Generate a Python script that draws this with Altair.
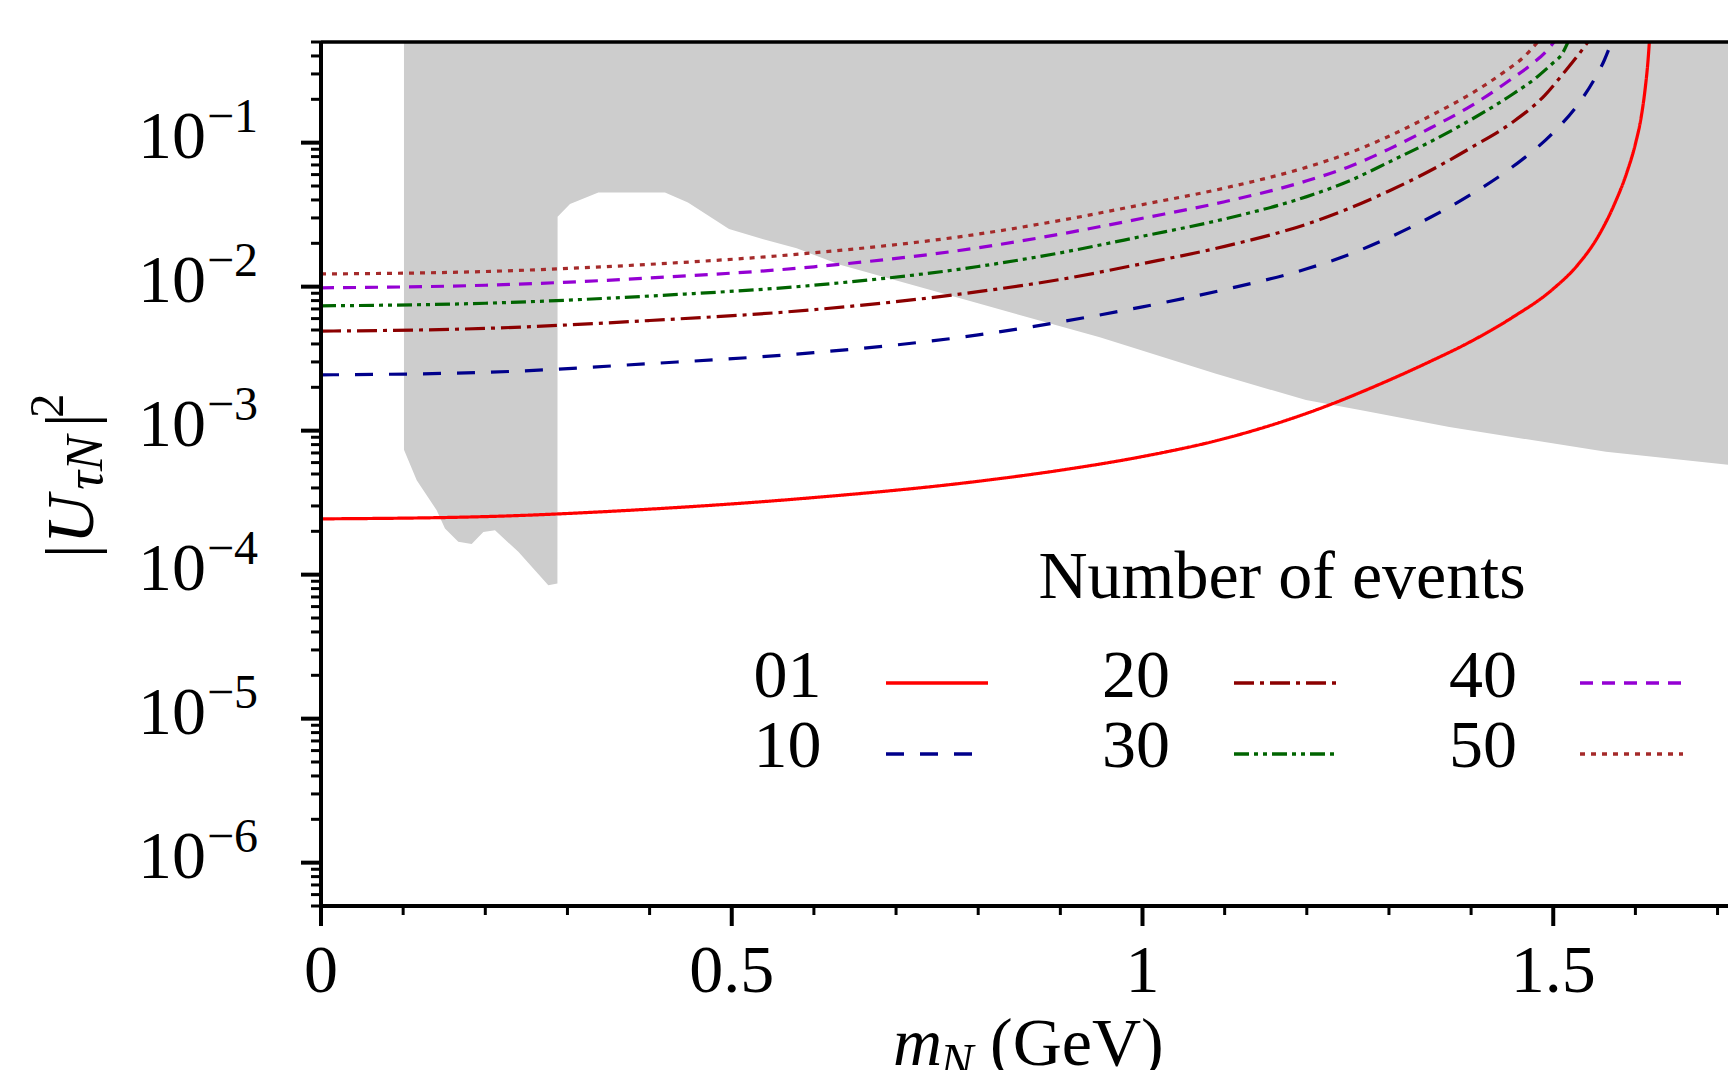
import altair as alt
import pandas as pd

# ---------------- data ----------------
series_labels = ["01", "10", "20", "30", "40", "50"]
series_colors = ["#ff0000", "#00008b", "#8b0000", "#006400", "#9400d3", "#a52a2a"]
series_dashes = [[1, 0], [18, 16], [20, 6, 4, 6], [15, 5, 4, 5, 4, 5], [13, 9], [5, 6]]

m_01 = [0, 0.2, 0.4, 0.6, 0.8, 0.9, 1.0, 1.1, 1.2, 1.3, 1.35, 1.4, 1.45, 1.5, 1.53, 1.555,
        1.575, 1.59, 1.60, 1.607, 1.612, 1.6155, 1.617]
u_01 = [2.44e-4, 2.53e-4, 2.85e-4, 3.43e-4, 4.45e-4, 5.31e-4, 6.61e-4, 8.81e-4, 1.32e-3,
        2.24e-3, 3.02e-3, 4.17e-3, 6.10e-3, 9.66e-3, 1.42e-2, 2.25e-2, 3.80e-2, 6.30e-2,
        9.80e-2, 0.150, 0.240, 0.380, 0.5]

m_10 = [0, 0.2, 0.4, 0.6, 0.8, 0.9, 1.0, 1.1, 1.2, 1.25, 1.3, 1.35, 1.4, 1.45, 1.5, 1.53,
        1.55, 1.562, 1.571]
u_10 = [2.44e-3, 2.54e-3, 2.92e-3, 3.48e-3, 4.62e-3, 5.69e-3, 7.24e-3, 9.55e-3, 1.33e-2,
        1.66e-2, 2.19e-2, 3.02e-2, 4.37e-2, 6.76e-2, 0.1175, 0.184, 0.275, 0.372, 0.5]

m_20 = [0, 0.2, 0.4, 0.6, 0.8, 0.9, 1.0, 1.1, 1.2, 1.25, 1.3, 1.35, 1.4, 1.45, 1.49, 1.515,
        1.53, 1.542]
u_20 = [4.91e-3, 5.13e-3, 5.82e-3, 6.92e-3, 9.23e-3, 1.122e-2, 1.445e-2, 1.905e-2, 2.72e-2,
        3.47e-2, 4.62e-2, 6.38e-2, 9.23e-2, 0.138, 0.214, 0.316, 0.403, 0.5]

m_30 = [0, 0.2, 0.4, 0.6, 0.8, 0.9, 1.0, 1.1, 1.2, 1.25, 1.3, 1.35, 1.4, 1.45, 1.48, 1.5,
        1.51, 1.518]
u_30 = [7.36e-3, 7.67e-3, 8.61e-3, 1.023e-2, 1.380e-2, 1.718e-2, 2.239e-2, 2.951e-2,
        4.22e-2, 5.37e-2, 7.33e-2, 0.1012, 0.1445, 0.216, 0.285, 0.359, 0.407, 0.5]

m_40 = [0, 0.2, 0.4, 0.6, 0.8, 0.9, 1.0, 1.1, 1.2, 1.25, 1.3, 1.35, 1.4, 1.45, 1.475, 1.49,
        1.501]
u_40 = [9.82e-3, 1.023e-2, 1.148e-2, 1.374e-2, 1.862e-2, 2.317e-2, 2.985e-2, 3.89e-2,
        5.43e-2, 6.76e-2, 9.02e-2, 0.1259, 0.180, 0.279, 0.355, 0.422, 0.5]

m_50 = [0, 0.2, 0.4, 0.6, 0.8, 0.9, 1.0, 1.1, 1.2, 1.25, 1.3, 1.35, 1.4, 1.44, 1.465, 1.481]
u_50 = [1.225e-2, 1.274e-2, 1.429e-2, 1.718e-2, 2.317e-2, 2.884e-2, 3.715e-2, 4.84e-2,
        6.76e-2, 8.41e-2, 0.1109, 0.1531, 0.2188, 0.309, 0.398, 0.5]

# excluded (grey) region: lower boundary, filled up to the top of the frame
gray_m = [0.1010, 0.1165, 0.1327, 0.1408, 0.1509, 0.1671, 0.1834, 0.1976, 0.2118, 0.2402,
          0.2767, 0.2878, 0.2880, 0.3031, 0.3376, 0.4187, 0.4467, 0.4967, 0.5384, 0.5790,
          0.6318, 0.79, 0.948, 1.0895, 1.199, 1.2648, 1.3735, 1.5642, 1.72]
gray_u = [7.38e-4, 4.53e-4, 3.29e-4, 2.80e-4, 2.09e-4, 1.69e-4, 1.63e-4, 1.98e-4, 2.03e-4,
          1.44e-4, 8.44e-5, 8.67e-5, 3.06e-2, 3.75e-2, 4.50e-2, 4.50e-2, 3.84e-2, 2.51e-2,
          2.13e-2, 1.846e-2, 1.42e-2, 7.94e-3, 4.45e-3, 2.48e-3, 1.63e-3, 1.39e-3, 1.06e-3,
          7.13e-4, 5.75e-4]

x_major = [0, 0.5, 1, 1.5]
x_labels = ["0", "0.5", "1", "1.5"]
x_minor = [0.1, 0.2, 0.3, 0.4, 0.6, 0.7, 0.8, 0.9, 1.1, 1.2, 1.3, 1.4, 1.6, 1.7]
y_major = [1e-1, 1e-2, 1e-3, 1e-4, 1e-5, 1e-6]
y_exps = ["\u22121", "\u22122", "\u22123", "\u22124", "\u22125", "\u22126"]
legend_title = "Number of events"

# ---------------- layout ----------------
FONT = "Liberation Serif"
W, H = 1407, 864
PX_PER_UNIT = 821.5
XMAX = W / PX_PER_UNIT
YMIN, YMAX = 5e-7, 0.5

xs = alt.Scale(domain=[0, XMAX], nice=False, zero=False)
ys = alt.Scale(type="log", domain=[YMIN, YMAX], nice=False)

rows = []
for lab, ms, us in zip(series_labels, [m_01, m_10, m_20, m_30, m_40, m_50],
                       [u_01, u_10, u_20, u_30, u_40, u_50]):
    for m, u in zip(ms, us):
        rows.append({"series": lab, "m": m, "u": u})
curves = pd.DataFrame(rows)
gray = pd.DataFrame({"m": gray_m, "u": gray_u, "top": [YMAX] * len(gray_m)})

minor_y = []
for k in range(-7, 0):
    for j in range(2, 10):
        v = j * 10.0 ** k
        if YMIN * 0.999 <= v <= YMAX * 1.001:
            minor_y.append(v)

one = pd.DataFrame({"a": [0]})
X = lambda f="m": alt.X(f"{f}:Q", scale=xs, axis=None)
Y = lambda f="u": alt.Y(f"{f}:Q", scale=ys, axis=None, stack=None)

area = alt.Chart(gray).mark_area(color="#cdcdcd", clip=True, opacity=1).encode(
    x=X(), y=Y(), y2="top:Q")

lines = alt.Chart(curves).mark_line(clip=True, strokeWidth=3.2, interpolate="monotone").encode(
    x=X(), y=Y(),
    color=alt.Color("series:N", scale=alt.Scale(domain=series_labels, range=series_colors),
                    legend=None),
    strokeDash=alt.StrokeDash("series:N",
                              scale=alt.Scale(domain=series_labels, range=series_dashes),
                              legend=None),
    detail="series:N",
)

# frame / axes drawn as rules
ydomain = alt.Chart(one).mark_rule(color="black", strokeWidth=4).encode(
    x=alt.value(0), y=alt.value(0), y2=alt.value(H))
xdomain = alt.Chart(one).mark_rule(color="black", strokeWidth=4).encode(
    x=alt.value(-2), x2=alt.value(W), y=alt.value(H))
topline = alt.Chart(one).mark_rule(color="black", strokeWidth=3.5).encode(
    x=alt.value(0), x2=alt.value(W), y=alt.value(0))
ymaj = alt.Chart(pd.DataFrame({"u": y_major})).mark_rule(color="black", strokeWidth=4).encode(
    y=Y(), x=alt.value(-20), x2=alt.value(0))
ymin_ = alt.Chart(pd.DataFrame({"u": minor_y})).mark_rule(color="black", strokeWidth=3).encode(
    y=Y(), x=alt.value(-10), x2=alt.value(0))
xmaj = alt.Chart(pd.DataFrame({"m": x_major})).mark_rule(color="black", strokeWidth=4).encode(
    x=X(), y=alt.value(H), y2=alt.value(H + 20))
xmin_ = alt.Chart(pd.DataFrame({"m": x_minor})).mark_rule(color="black", strokeWidth=3).encode(
    x=X(), y=alt.value(H), y2=alt.value(H + 9))

xlab = alt.Chart(pd.DataFrame({"m": x_major, "lab": x_labels})).mark_text(
    font=FONT, fontSize=68, align="center", baseline="alphabetic", color="black").encode(
    x=X(), y=alt.value(950), text="lab:N")

ylab10 = alt.Chart(pd.DataFrame({"u": y_major})).mark_text(
    font=FONT, fontSize=68, align="right", baseline="alphabetic", dy=15, color="black").encode(
    y=Y(), x=alt.value(-115), text=alt.value("10"))

ylabexp = alt.Chart(pd.DataFrame({"u": y_major, "e": y_exps})).mark_text(
    font=FONT, fontSize=48, align="left", baseline="alphabetic", dy=-11, color="black").encode(
    y=Y(), x=alt.value(-114), text="e:N")


def txt(s, x, y, size=68, style="normal", angle=0, align="left"):
    mk = dict(font=FONT, fontSize=size, align=align, baseline="alphabetic",
              color="black", fontStyle=style)
    if angle:
        mk["angle"] = angle
    return alt.Chart(one).mark_text(**mk).encode(
        x=alt.value(x), y=alt.value(y), text=alt.value(s))


# y title |U_{tau N}|^2 (rotated)
ytitle = [
    txt("|", -228, 516, 68, "normal", 270),
    txt("U", -228, 502, 68, "italic", 270),
    txt("\u03c4N", -219, 448, 53, "italic", 270),
    txt("|", -228, 385, 68, "normal", 270),
    txt("2", -258, 376, 49, "normal", 270),
]
# x title m_N (GeV)
xtitle = [
    txt("m", 572, 1023, 68, "italic"),
    txt("N", 619, 1036, 50, "italic"),
    txt("(GeV)", 669, 1023, 68, "normal"),
]

# legend (label then line sample)
leg = [txt(legend_title, 961, 556, 68, "normal", 0, "center")]
col_right = [500.5, 849, 1196]
col_sample = [[565, 667], [913, 1015], [1259, 1362]]
row_base = [655, 725]
row_line = [641, 712]
for i, lab in enumerate(series_labels):
    c, r = i // 2, i % 2
    leg.append(txt(lab, col_right[c], row_base[r], 68, "normal", 0, "right"))
    leg.append(alt.Chart(one).mark_rule(color=series_colors[i], strokeWidth=3.4,
                                        strokeDash=series_dashes[i]).encode(
        x=alt.value(col_sample[c][0]), x2=alt.value(col_sample[c][1]),
        y=alt.value(row_line[r])))

chart = alt.layer(area, lines, ydomain, xdomain, topline, ymaj, ymin_, xmaj, xmin_,
                  xlab, ylab10, ylabexp, *ytitle, *xtitle, *leg).properties(
    width=W, height=H,
    autosize=alt.AutoSizeParams(type="none"),
    padding={"left": 313, "top": 34, "right": 0, "bottom": 164},
    background="white",
).configure_view(stroke=None)

chart.save("out.html", embed_options={"renderer": "svg", "actions": False})
